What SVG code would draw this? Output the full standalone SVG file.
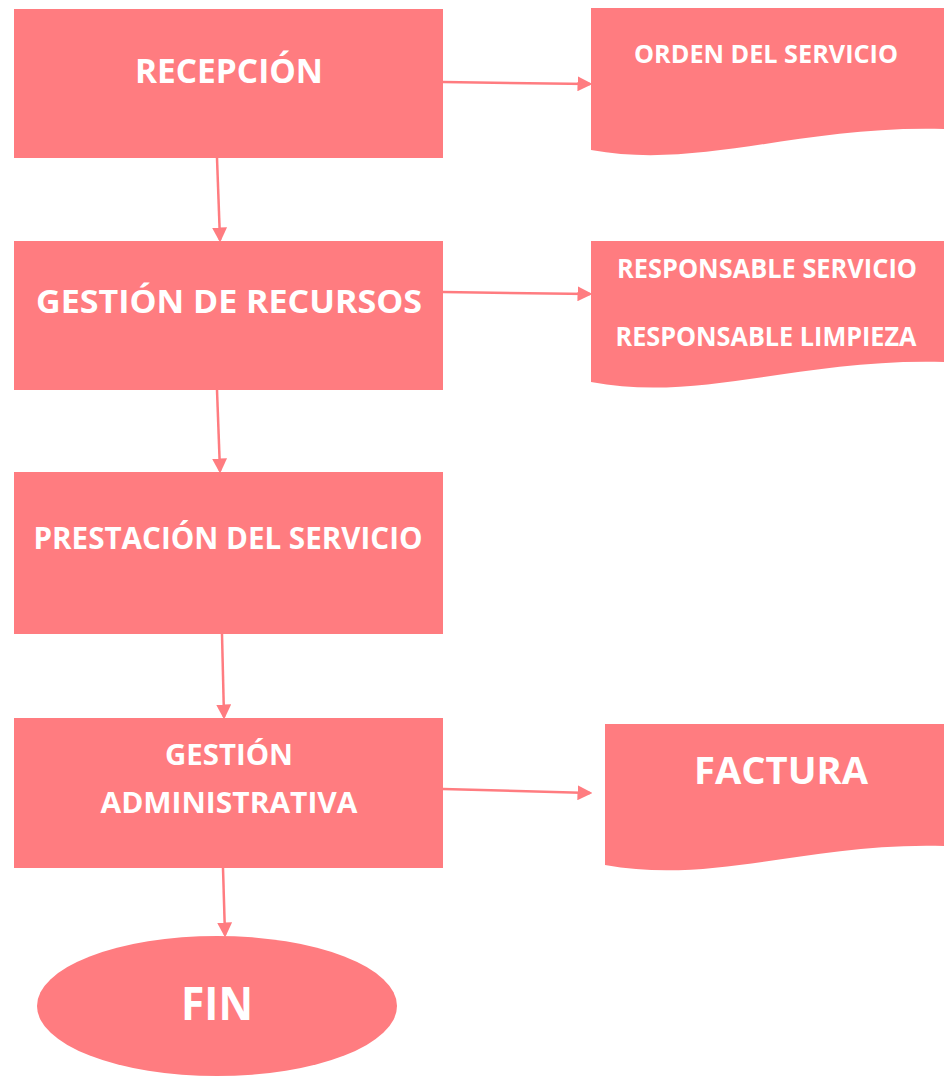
<svg xmlns="http://www.w3.org/2000/svg" width="946" height="1076" viewBox="0 0 946 1076">
<defs>
<marker id="ah" markerWidth="6" markerHeight="6" refX="5" refY="3" orient="auto" markerUnits="strokeWidth">
<path d="M0,0 L6,3 L0,6 Z" fill="#FF7C80"/>
</marker>
<style>
.n{fill:#FF7C80}
.t{font-family:"Open Sans","Noto Sans",sans-serif;font-weight:700;fill:#FFFFFF;text-anchor:middle}
.c{stroke:#FF7C80;stroke-width:2.5;fill:none;marker-end:url(#ah)}
</style>
</defs>
<rect width="946" height="1076" fill="#FFFFFF"/>
<g id="connectors">
<line class="c" x1="443" y1="82" x2="590" y2="84"/>
<line class="c" x1="443" y1="292" x2="590" y2="294"/>
<line class="c" x1="443" y1="789" x2="590" y2="793"/>
<line class="c" x1="217" y1="158" x2="220" y2="240"/>
<line class="c" x1="217" y1="390" x2="220" y2="471"/>
<line class="c" x1="222" y1="634" x2="224" y2="717"/>
<line class="c" x1="223" y1="868" x2="225" y2="935"/>
</g>
<g id="recepcion">
<rect class="n" x="14" y="9" width="429" height="149"/>
<text class="t" x="229" y="83" font-size="34" textLength="188" lengthAdjust="spacingAndGlyphs">RECEPCIÓN</text>
</g>
<g id="orden">
<path class="n" d="M591,8 H944 V129 C800,125 700,170 591,150 Z"/>
<text class="t" x="766" y="63" font-size="25" textLength="264" lengthAdjust="spacingAndGlyphs">ORDEN DEL SERVICIO</text>
</g>
<g id="gestion-recursos">
<rect class="n" x="14" y="241" width="429" height="149"/>
<text class="t" x="229" y="313" font-size="32" textLength="386" lengthAdjust="spacingAndGlyphs">GESTIÓN DE RECURSOS</text>
</g>
<g id="responsables">
<path class="n" d="M591,241 H944 V362 C800,358 700,403 591,382 Z"/>
<text class="t" x="767" y="278" font-size="27" textLength="300" lengthAdjust="spacingAndGlyphs">RESPONSABLE SERVICIO</text>
<text class="t" x="766" y="346" font-size="27" textLength="301" lengthAdjust="spacingAndGlyphs">RESPONSABLE LIMPIEZA</text>
</g>
<g id="prestacion">
<rect class="n" x="14" y="472" width="429" height="162"/>
<text class="t" x="228" y="549" font-size="30" textLength="389" lengthAdjust="spacingAndGlyphs">PRESTACIÓN DEL SERVICIO</text>
</g>
<g id="gestion-administrativa">
<rect class="n" x="14" y="718" width="429" height="150"/>
<text class="t" x="229" y="765" font-size="28" textLength="128" lengthAdjust="spacingAndGlyphs">GESTIÓN</text>
<text class="t" x="229" y="813" font-size="28" textLength="257" lengthAdjust="spacingAndGlyphs">ADMINISTRATIVA</text>
</g>
<g id="factura">
<path class="n" d="M605,724 H944 V846 C810,842 715,885 605,865 Z"/>
<text class="t" x="781" y="784" font-size="37" textLength="174" lengthAdjust="spacingAndGlyphs">FACTURA</text>
</g>
<g id="fin">
<ellipse class="n" cx="217" cy="1006" rx="180" ry="70"/>
<text class="t" x="217" y="1020" font-size="46" textLength="72" lengthAdjust="spacingAndGlyphs">FIN</text>
</g>
</svg>
